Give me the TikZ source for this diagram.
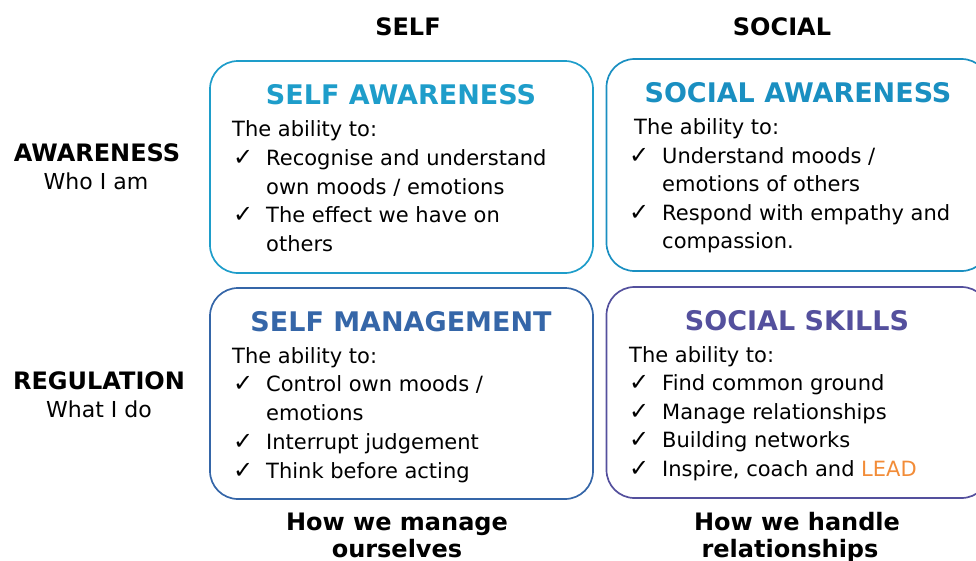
\documentclass[tikz,border=0pt]{standalone}
\usepackage{fontspec}
\setmainfont{DejaVu Sans}

\definecolor{selfaw}{HTML}{1E9DCA}
\definecolor{socaw}{HTML}{1A8FC1}
\definecolor{selfmg}{HTML}{3566A8}
\definecolor{socsk}{HTML}{54509D}
\definecolor{leadorange}{HTML}{F28C38}

\begin{document}
\begin{tikzpicture}[x=1pt,y=-1pt,
 quad/.style={draw,line width=1.7pt,rounded corners=28pt,minimum width=383pt,minimum height=212pt,inner sep=0pt},
 title/.style={anchor=base,inner sep=0pt,font=\fontsize{27}{30}\selectfont\bfseries},
 axis/.style={anchor=base,inner sep=0pt,font=\fontsize{24}{27}\selectfont\bfseries},
 sub/.style={anchor=base,inner sep=0pt,font=\fontsize{22}{25}\selectfont},
 item/.style={anchor=base west,inner sep=0pt,font=\fontsize{21}{25}\selectfont},
 tick/.style={anchor=base west,inner sep=0pt,font=\fontsize{24}{26}\selectfont}]
\useasboundingbox (0,0) rectangle (976,560);
\clip (0,0) rectangle (976,560);

% column and row headings
\node[axis] (self) at (408,35) {SELF};
\node[axis] (social) at (782,35) {SOCIAL};
\node[axis] (aware) at (97,161) {AWARENESS};
\node[sub] (whoiam) at (96,189) {Who I am};
\node[axis] (regul) at (99,389) {REGULATION};
\node[sub] (whatido) at (99,417) {What I do};
\node[axis] (manage) at (397,530) {How we manage};
\node[axis] (ourselves) at (397,557) {ourselves};
\node[axis] (handle) at (797,530) {How we handle};
\node[axis] (relations) at (790,557) {relationships};

% the four quadrants
\node[quad,draw=selfaw] (sabox) at (401.5,167) {};
\node[quad,draw=socaw] (scbox) at (798,165) {};
\node[quad,draw=selfmg,minimum height=211pt] (smbox) at (401.5,393.5) {};
\node[quad,draw=socsk,minimum height=211pt] (ssbox) at (798,392.5) {};

% self awareness
\node[title,text=selfaw] (satitle) at (401,104) {SELF AWARENESS};
\node[item] (sa0) at (232,136) {The ability to:};
\node[tick] (sat1) at (233,165) {✓};
\node[item] (sa1) at (266,165) {Recognise and understand};
\node[item] (sa2) at (266,194) {own moods / emotions};
\node[tick] (sat3) at (233,222) {✓};
\node[item] (sa3) at (266,222) {The effect we have on};
\node[item] (sa4) at (266,251) {others};

% social awareness
\node[title,text=socaw] (sctitle) at (798,102) {SOCIAL AWARENESS};
\node[item] (sc0) at (634,134) {The ability to:};
\node[tick] (sct1) at (629,163) {✓};
\node[item] (sc1) at (662,163) {Understand moods /};
\node[item] (sc2) at (662,191) {emotions of others};
\node[tick] (sct3) at (629,220) {✓};
\node[item] (sc3) at (662,220) {Respond with empathy and};
\node[item] (sc4) at (662,248) {compassion.};

% self management
\node[title,text=selfmg] (smtitle) at (401,331) {SELF MANAGEMENT};
\node[item] (sm0) at (232,363) {The ability to:};
\node[tick] (smt1) at (233,391) {✓};
\node[item] (sm1) at (266,391) {Control own moods /};
\node[item] (sm2) at (266,420) {emotions};
\node[tick] (smt3) at (233,449) {✓};
\node[item] (sm3) at (266,449) {Interrupt judgement};
\node[tick] (smt4) at (233,478) {✓};
\node[item] (sm4) at (266,478) {Think before acting};

% social skills
\node[title,text=socsk] (sstitle) at (797,330) {SOCIAL SKILLS};
\node[item] (ss0) at (629,362) {The ability to:};
\foreach \t [count=\i, evaluate=\i as \yy using 362+28.5*\i] in
  {Find common ground, Manage relationships, Building networks,
   {Inspire, coach and \textcolor{leadorange}{LEAD}}}{
  \node[tick] (sst\i) at (629,\yy) {✓};
  \node[item] (ss\i) at (662,\yy) {\t};
}
\end{tikzpicture}
\end{document}
